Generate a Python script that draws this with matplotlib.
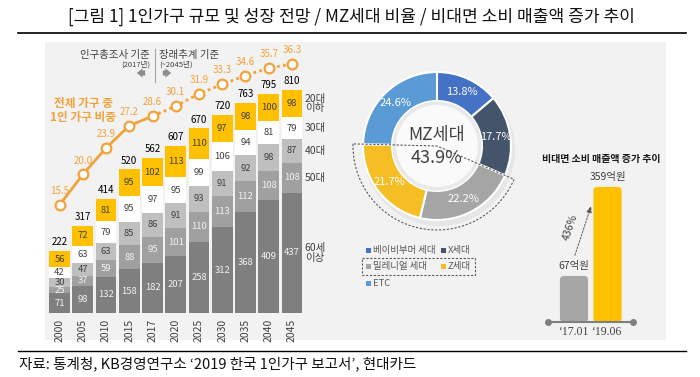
import matplotlib
matplotlib.use("Agg")
import matplotlib.pyplot as plt
from matplotlib.patches import Rectangle, Wedge, Circle, FancyBboxPatch
import numpy as np

plt.rcParams['font.family'] = ['Noto Sans CJK KR', 'DejaVu Sans']

# ---------------- data ----------------
years = ['2000', '2005', '2010', '2015', '2017', '2020', '2025', '2030', '2035', '2040', '2045']
totals = [222, 317, 414, 520, 562, 607, 670, 720, 763, 795, 810]
age60 = [71, 98, 132, 158, 182, 207, 258, 312, 368, 409, 437]
age50 = [25, 37, 59, 88, 95, 101, 110, 113, 112, 108, 108]
age40 = [30, 47, 63, 85, 86, 91, 93, 91, 92, 98, 87]
age30 = [42, 63, 79, 95, 97, 95, 99, 106, 94, 81, 79]
age20 = [56, 72, 81, 95, 102, 113, 110, 97, 98, 100, 98]
share = [15.5, 20.0, 23.9, 27.2, 28.6, 30.1, 31.9, 33.3, 34.6, 35.7, 36.3]
age_labels = ['60세\n이상', '50대', '40대', '30대', '20대\n이하']

gen_labels = ['베이비부머 세대', 'X세대', '밀레니얼 세대', 'Z세대', 'ETC']
gen_values = [13.8, 17.7, 22.2, 21.7, 24.6]
mz_total = 43.9

sales_labels = ['‘17.01', '‘19.06']
sales_values = [67, 359]
sales_growth = '436%'

# ---------------- figure ----------------
W, H = 700, 377
fig = plt.figure(figsize=(W / 100, H / 100), dpi=100)
fig.patch.set_facecolor('white')

def px_axes(x0, y0, x1, y1, **kw):
    return fig.add_axes([x0 / W, 1 - y1 / H, (x1 - x0) / W, (y1 - y0) / H], **kw)

canvas = px_axes(0, 0, W, H)
canvas.set_xlim(0, W)
canvas.set_ylim(H, 0)
canvas.axis('off')
canvas.set_zorder(0)

DARK = '#404040'
ORANGE = '#F2A23A'

# title and rules
canvas.text(351, 17, '[그림 1] 1인가구 규모 및 성장 전망 / MZ세대 비율 / 비대면 소비 매출액 증가 추이',
            ha='center', va='center', fontsize=12.3, color='#111111')
canvas.plot([18, 686], [33, 33], color='black', lw=1.2)
canvas.add_patch(Rectangle((45, 42), 621, 298, facecolor='#F2F2F2', edgecolor='none'))
canvas.plot([18, 686], [351, 351], color='black', lw=1.0)
canvas.text(19, 364, '자료: 통계청, KB경영연구소 ‘2019 한국 1인가구 보고서’, 현대카드',
            ha='left', va='center', fontsize=10.5, color='#111111')

# ---------------- stacked bar chart ----------------
ax = px_axes(47.9, 45, 303.6, 313)
ax.set_facecolor('none')
x = np.arange(len(years))
seg_colors = ['#7F7F7F', '#A0A0A0', '#BFBFBF', '#FFFFFF', '#FFC000']
seg_text = ['#F2F2F2', '#F2F2F2', '#404040', '#404040', '#404040']
segments = [age60, age50, age40, age30, age20]
bottom = np.zeros(len(years))
for vals, c, tc in zip(segments, seg_colors, seg_text):
    vals = np.array(vals, dtype=float)
    ax.bar(x, vals, width=0.9, bottom=bottom, color=c, edgecolor='none')
    for xi, b, v in zip(x, bottom, vals):
        ax.text(xi, b + v / 2, f'{int(v)}', ha='center', va='center', fontsize=6.8, color=tc)
    bottom = bottom + vals
for xi, t, b in zip(x, totals, bottom):
    ax.text(xi, b + 14, f'{t}', ha='center', va='bottom', fontsize=7, color='black')

# age group labels beside last bar
bottom = 0
for vals, lab in zip(segments, age_labels):
    v = vals[-1]
    ax.text(x[-1] + 0.55, bottom + v / 2, lab, ha='left', va='center', fontsize=7.5,
            color=DARK, linespacing=0.95, clip_on=False)
    bottom += v

ax.set_xlim(-0.5, len(years) - 0.5)
ax.set_ylim(0, 973)
ax.set_xticks(x, years, rotation=90, fontsize=7.5, color=DARK)
ax.tick_params(axis='x', length=0, pad=4)
ax.set_yticks([])
for s in ax.spines.values():
    s.set_visible(False)

ax2 = ax.twinx()
ax2.set_ylim(-0.43, 39.1)
ax2.plot(x[:5], share[:5], color=ORANGE, lw=2, zorder=3)
ax2.plot(x[4:], share[4:], color=ORANGE, lw=2, ls=(0, (1, 1.2)), zorder=3)
ax2.plot(x, share, ls='none', marker='o', ms=7, mfc='white', mec=ORANGE, mew=1.6, zorder=4)
for xi, v in zip(x, share):
    ax2.annotate(f'{v:.1f}', (xi, v), xytext=(0, 10), textcoords='offset points',
                 ha='center', va='center', fontsize=7, color=ORANGE)
ax2.set_yticks([])
for s in ax2.spines.values():
    s.set_visible(False)

# annotations over the bar chart
canvas.text(150, 55, '인구총조사 기준', ha='right', va='center', fontsize=7.5, color=DARK)
canvas.text(150, 65, '(2017년)', ha='right', va='center', fontsize=5.5, color=DARK)
canvas.text(159, 55, '장래추계 기준', ha='left', va='center', fontsize=7.5, color=DARK)
canvas.text(159, 65, '(~2045년)', ha='left', va='center', fontsize=5.5, color=DARK)
canvas.plot([154.5, 154.5], [49, 82], color='#A6A6A6', lw=0.8)
arrow_kw = dict(arrowstyle='simple,head_width=0.55,head_length=0.35,tail_width=0.3',
                color='#8C8C8C', lw=0, mutation_scale=12)
canvas.annotate('', xy=(134, 73), xytext=(148, 73), arrowprops=arrow_kw)
canvas.annotate('', xy=(174, 73), xytext=(160, 73), arrowprops=arrow_kw)
canvas.text(83, 103, '전체 가구 중', ha='center', va='center', fontsize=8.4,
            fontweight='bold', color=ORANGE)
canvas.text(83, 117, '1인 가구 비중', ha='center', va='center', fontsize=8.4,
            fontweight='bold', color=ORANGE)

# ---------------- donut ----------------
dax = px_axes(337, 46, 537, 246)
dax.set_facecolor('none')
gen_colors = ['#4472C4', '#44546A', '#A5A5A5', '#F5BE25', '#5B9BD5']
R, Wd = 74, 29
dax.add_patch(Circle((2, -4), R + 2, facecolor='#E6E6E6', edgecolor='none', zorder=0))
wedges, texts, autotexts = dax.pie(
    gen_values, radius=R, startangle=90, counterclock=False, colors=gen_colors,
    wedgeprops=dict(width=Wd, edgecolor='white', linewidth=1.5),
    autopct=lambda p: f'{p:.1f}%', pctdistance=(R - Wd / 2) / R,
    textprops=dict(color='white', fontsize=8))
dax.add_patch(Circle((0, 0), R - Wd - 0.5, facecolor='#E9E9E9', edgecolor='none'))
dax.add_patch(Circle((0, 0), R - Wd - 4, facecolor='#FAFAFA', edgecolor='none'))
cum = np.cumsum(gen_values)
theta_end = 90 - 360 * cum[3] / 100      # end of Z
theta_start = 90 - 360 * cum[1] / 100    # start of millennial
dax.add_patch(Wedge((0, 0), 84, theta_end % 360, theta_start % 360, fill=False,
                    ls=(0, (2, 1.5)), lw=0.8, ec='#595959'))
dax.text(0, 11, 'MZ세대', ha='center', va='center', fontsize=12.5, color=DARK)
dax.text(0, -12, f'{mz_total}%', ha='center', va='center', fontsize=13, color=DARK)
dax.set_xlim(-100, 100)
dax.set_ylim(-100, 100)
dax.set_aspect('equal')
dax.axis('off')

# legend
leg_pos = [(368, 250), (443, 250), (368, 266), (443, 266), (368, 283)]
for (lx, ly), lab, c in zip(leg_pos, gen_labels, gen_colors):
    canvas.add_patch(Rectangle((lx - 2.5, ly - 2.5), 5, 5, facecolor=c, edgecolor='none'))
    canvas.text(lx + 5, ly, lab, ha='left', va='center', fontsize=6.8, color='#595959')
canvas.add_patch(Rectangle((362, 258), 113, 17, fill=False, ls=(0, (2, 1.5)),
                           lw=0.8, ec='#595959'))

# ---------------- sales mini chart ----------------
canvas.text(601, 159, '비대면 소비 매출액 증가 추이', ha='center', va='center',
            fontsize=7.2, color='#1A1A1A', fontweight='bold')
base = -84
sax = px_axes(548, 150, 633, 322)
sax.set_facecolor('none')
sx = np.arange(len(sales_values))
sv = np.array(sales_values, dtype=float)
bars = sax.bar(sx, sv - base, bottom=base, width=0.84, color=['#A6A6A6', '#FFC000'],
               edgecolor='none')
xpx = 33.5            # pixels per x unit
ypx = 0.305           # pixels per y unit
for b in bars:
    b.set_visible(False)
    rs = 4 / xpx
    sax.add_patch(FancyBboxPatch((b.get_x(), b.get_y()), b.get_width(), b.get_height(),
                                 boxstyle=f'round,pad=0,rounding_size={rs}',
                                 mutation_aspect=xpx / ypx,
                                 facecolor=b.get_facecolor(), edgecolor='none'))
for b, v in zip(bars, sales_values):
    sax.text(b.get_x() + b.get_width() / 2, v + 16, f'{v}억원', ha='center', va='bottom',
             fontsize=7.5, color=DARK)
sax.set_xlim(-0.776, 1.76)
sax.set_ylim(base, base + 172 / ypx)
sax.plot([0, 1], [0, 0], transform=sax.transAxes, color='#7F7F7F', lw=1.5,
         marker='o', ms=4, clip_on=False)
sax.set_xticks(sx, sales_labels, fontsize=8.5, color=DARK, family='Liberation Serif')
sax.tick_params(axis='x', length=0, pad=3)
sax.set_yticks([])
for s in sax.spines.values():
    s.set_visible(False)
sax.annotate('', xy=(0.54, 306), xytext=(0.0, 126),
             arrowprops=dict(arrowstyle='-|>,head_width=0.15,head_length=0.4',
                             ls=(0, (2, 1.5)), color='#595959', lw=0.7))
sax.text(-0.12, 227, sales_growth, rotation=71, ha='center', va='center',
         fontsize=7.5, color=DARK)

fig.savefig('out.png', dpi=100, facecolor='white')
